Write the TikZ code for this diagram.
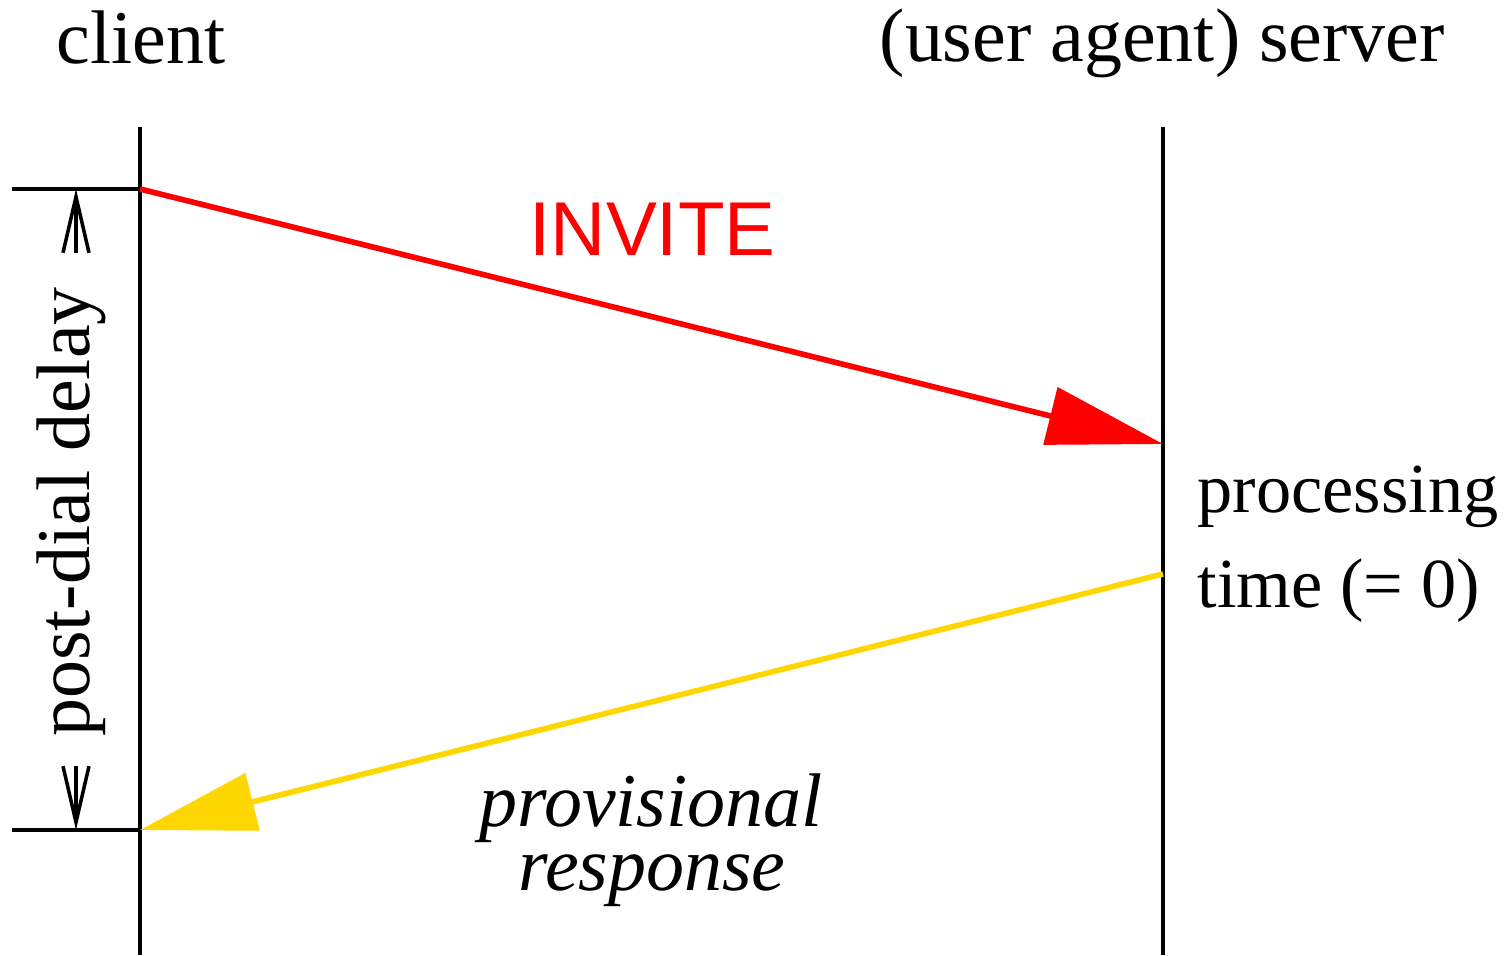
\documentclass[tikz,border=0pt]{standalone}
\usepackage{fontspec}
\setmainfont{Liberation Serif}
\newfontfamily\invitefont{Liberation Sans}
\usepackage{tikz}
\usetikzlibrary{arrows.meta}

\definecolor{invitered}{RGB}{255,0,0}
\definecolor{provyellow}{RGB}{255,214,0}

\begin{document}
\begin{tikzpicture}[
    x=0.01cm, y=-0.01cm,
    label/.style={inner sep=0pt, font=\fontsize{21.6pt}{26pt}\selectfont},
    small/.style={inner sep=0pt, font=\fontsize{20pt}{24pt}\selectfont},
    lifeline/.style={line width=1pt},
    msg/.style={line width=1.6pt, -{Triangle[length=1.16cm, width=0.58cm]}},
    delay/.style={line width=1pt, -{Straight Barb[length=0.56cm, width=0.26cm]}}
]
\useasboundingbox (0,0) rectangle (1507,955);

% lifelines
\coordinate (cltop) at (140,127);
\coordinate (clbot) at (140,955);
\coordinate (svtop) at (1163,127);
\coordinate (svbot) at (1163,955);
\draw[lifeline] (cltop) -- (clbot);
\draw[lifeline] (svtop) -- (svbot);

\node[label, anchor=base west] (client) at (56,64) {client};
\node[label, anchor=base west] (server) at (879,62) {(user agent) server};

% messages
\coordinate (invsrc)  at (140,189);
\coordinate (invdst)  at (1163,444);
\coordinate (provsrc) at (1163,574);
\coordinate (provdst) at (140,830);
\draw[msg, invitered]  (invsrc)  -- (invdst);
\draw[msg, provyellow] (provsrc) -- (provdst);

\node[inner sep=0pt, anchor=base west, text=invitered,
      font=\invitefont\fontsize{21.7pt}{26pt}\selectfont] (invite) at (529,255) {INVITE};
\node[label, anchor=base, font=\itshape\fontsize{21.6pt}{26pt}\selectfont] (prov1) at (651,826) {provisional};
\node[label, anchor=base, font=\itshape\fontsize{21.6pt}{26pt}\selectfont] (prov2) at (652,890) {response};

\node[small, anchor=base west] (proc1) at (1197,512) {processing};
\node[small, anchor=base west] (proc2) at (1197,607) {time (= 0)};

% post-dial delay
\coordinate (dtop)  at (12,189);
\coordinate (dbot)  at (12,830);
\coordinate (uptail) at (76,253);
\coordinate (uphead) at (76,189);
\coordinate (dntail) at (76,766);
\coordinate (dnhead) at (76,830);
\draw[lifeline] (dtop) -- (invsrc);
\draw[lifeline] (dbot) -- (provdst);
\draw[delay] (uptail) -- (uphead);
\draw[delay] (dntail) -- (dnhead);
\node[label, rotate=90, anchor=base] (pdd) at (89,512) {post-dial delay};
\end{tikzpicture}
\end{document}
